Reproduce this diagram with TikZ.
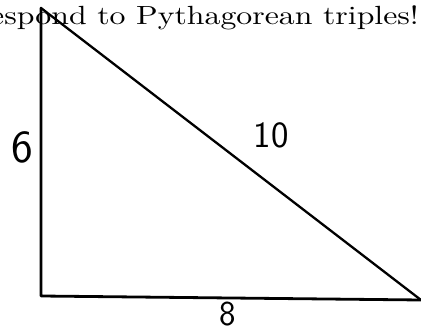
\documentclass[tikz,border=0pt]{standalone}
\begin{document}
\begin{tikzpicture}[x=1pt,y=-1pt,
  side/.style={line width=2.8pt,line cap=round,line join=round},
  hand/.style={font=\sffamily\fontsize{#1}{#1}\selectfont, inner sep=0pt}]
\useasboundingbox (0,0) rectangle (421,331);
\node[anchor=base east,inner sep=0pt] (title) at (419,25) {\scalebox{3.18}[2.63]{\fontsize{10}{10}\selectfont espond to Pythagorean triples!}};
\coordinate (A) at (41,8);
\coordinate (B) at (41,296);
\coordinate (C) at (421,300);
\draw[side] (A) -- (B) -- (C);
\draw[side,line width=2.3pt] (A) -- (C);
\node[hand=46] (six) at (22,147) {6};
\node[hand=37] (ten) at (271,135) {10};
\node[hand=35] (eight) at (228,314) {8};
\end{tikzpicture}
\end{document}
